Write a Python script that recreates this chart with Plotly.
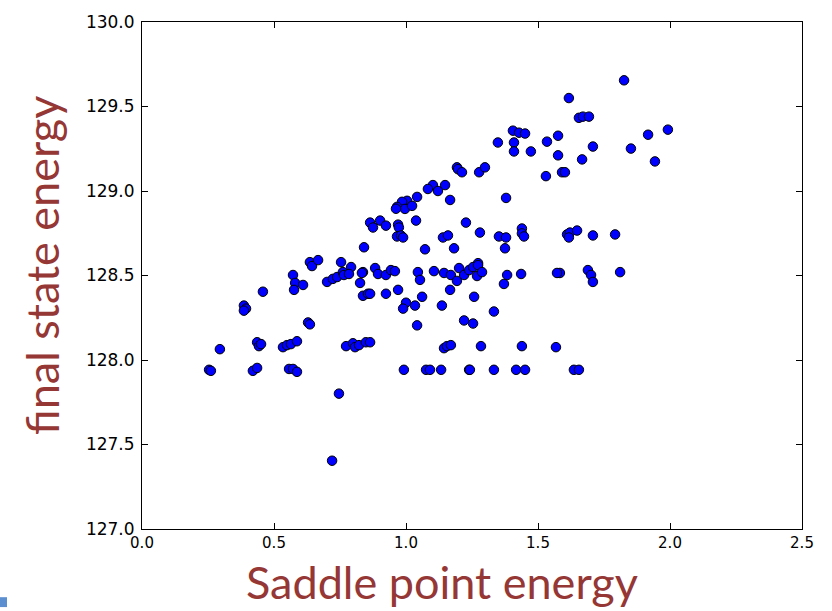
import plotly.graph_objects as go

# Saddle point energy vs. final state energy for each sampled transition
saddle_energy = [
    1.826, 1.617, 1.655, 1.670, 1.693, 1.405, 1.428, 1.451, 1.348, 1.409,
    1.409, 1.473, 1.534, 1.576, 1.708, 1.576, 1.667, 1.530, 1.591, 1.602,
    1.917, 1.992, 1.852, 1.943, 1.193, 1.197, 1.212, 1.277, 1.299, 1.102,
    1.083, 1.121, 1.148, 1.042, 1.167, 1.379, 1.004, 0.985, 0.966, 0.996,
    1.023, 0.962, 0.864, 0.875, 0.902, 0.924, 0.970, 0.973, 1.038, 1.227,
    0.966, 0.981, 0.989, 1.140, 1.159, 1.280, 1.352, 1.379, 1.439, 1.439,
    1.447, 1.610, 1.621, 1.648, 1.617, 1.708, 1.792, 0.841, 1.072, 1.182,
    1.375, 1.273,
    0.837, 0.883, 0.894, 0.924, 0.943, 0.958, 1.045, 1.053, 1.106, 1.144,
    1.170, 1.193, 1.201, 1.220, 1.239, 1.254, 1.273, 1.269, 1.288, 1.383,
    1.436, 1.371, 1.583, 1.572, 1.689, 1.701, 1.708, 1.811,
    0.636, 0.644, 0.667, 0.754, 0.572, 0.580, 0.610, 0.576, 0.701, 0.723,
    0.739, 0.761, 0.765, 0.792, 0.784, 0.833, 0.826, 0.837, 0.856,
    0.458, 0.386, 0.394, 0.386, 0.629, 0.636,
    0.436, 0.443, 0.451, 0.534, 0.549, 0.564, 0.587, 0.773, 0.799, 0.807,
    0.822, 0.848, 0.295, 0.254, 0.261, 0.420, 0.436, 0.557, 0.572, 0.587,
    0.746, 0.720,
    0.864, 0.924, 0.970, 1.000, 0.989, 1.034, 1.061, 1.167, 1.136, 1.258,
    1.042, 1.220, 1.254, 1.333, 0.864, 1.144, 1.155, 1.170, 1.284, 1.439,
    1.568, 0.992, 1.076, 1.091, 1.133, 1.239, 1.242, 1.333, 1.417, 1.451,
    1.636, 1.655,
]

final_energy = [
    129.655, 129.550, 129.433, 129.440, 129.440, 129.357, 129.345, 129.340, 129.287, 129.287,
    129.234, 129.234, 129.292, 129.327, 129.263, 129.211, 129.187, 129.088, 129.111, 129.111,
    129.333, 129.363, 129.251, 129.175, 129.140, 129.129, 129.111, 129.111, 129.140, 129.035,
    129.012, 129.000, 129.035, 128.965, 128.947, 128.959, 128.942, 128.936, 128.906, 128.894,
    128.912, 128.895, 128.813, 128.784, 128.825, 128.795, 128.801, 128.784, 128.825, 128.813,
    128.731, 128.737, 128.725, 128.725, 128.737, 128.754, 128.731, 128.725, 128.778, 128.749,
    128.731, 128.743, 128.754, 128.766, 128.725, 128.737, 128.743, 128.667, 128.655, 128.661,
    128.661, 128.573,
    128.520, 128.544, 128.509, 128.503, 128.532, 128.526, 128.520, 128.474, 128.526, 128.515,
    128.503, 128.468, 128.544, 128.503, 128.532, 128.550, 128.561, 128.497, 128.520, 128.503,
    128.509, 128.450, 128.515, 128.515, 128.532, 128.503, 128.462, 128.520,
    128.579, 128.556, 128.591, 128.579, 128.503, 128.456, 128.444, 128.415, 128.462, 128.480,
    128.491, 128.520, 128.503, 128.550, 128.509, 128.515, 128.456, 128.380, 128.392,
    128.404, 128.322, 128.304, 128.292, 128.222, 128.211,
    128.105, 128.082, 128.094, 128.076, 128.088, 128.094, 128.111, 128.082, 128.099, 128.076,
    128.088, 128.105, 128.064, 127.942, 127.936, 127.936, 127.953, 127.947, 127.947, 127.930,
    127.801, 127.404,
    128.392, 128.392, 128.415, 128.339, 128.304, 128.322, 128.374, 128.415, 128.322, 128.374,
    128.205, 128.234, 128.216, 128.287, 128.105, 128.070, 128.082, 128.088, 128.082, 128.082,
    128.076, 127.942, 127.942, 127.942, 127.942, 127.942, 127.942, 127.942, 127.942, 127.942,
    127.942, 127.942,
]

x_ticks = [0.0, 0.5, 1.0, 1.5, 2.0, 2.5]
y_ticks = [127.0, 127.5, 128.0, 128.5, 129.0, 129.5, 130.0]

title_color = "#953735"
title_font = dict(family="Lato, 'Open Sans', sans-serif", size=45, color=title_color)

fig = go.Figure(
    go.Scatter(
        x=saddle_energy,
        y=final_energy,
        mode="markers",
        marker=dict(size=9.5, color="#0000ff", line=dict(color="black", width=1)),
        hoverinfo="x+y",
    )
)

axis_common = dict(
    showgrid=False,
    zeroline=False,
    showline=True,
    linecolor="black",
    linewidth=1,
    mirror="allticks",
    ticks="inside",
    ticklen=6,
    tickcolor="black",
    tickwidth=1,
    tickformat=".1f",
)

fig.update_xaxes(
    range=[0, 2.5],
    tickvals=x_ticks,
    tickfont=dict(family="DejaVu Sans", size=15, color="black"),
    **axis_common,
)
fig.update_yaxes(
    range=[127, 130],
    tickvals=y_ticks,
    tickfont=dict(family="DejaVu Sans", size=17, color="black"),
    ticklabelstandoff=3,
    **axis_common,
)

fig.update_layout(
    width=832,
    height=611,
    margin=dict(l=142, r=30, t=16, b=82),
    paper_bgcolor="white",
    plot_bgcolor="white",
    showlegend=False,
    annotations=[
        dict(
            text="Saddle point energy",
            xref="paper", yref="paper",
            x=(442 - 142) / 660, y=-0.105,
            xanchor="center", yanchor="middle",
            showarrow=False,
            font=title_font,
        ),
        dict(
            text="final state energy",
            xref="paper", yref="paper",
            x=-(142 - 42) / 660, y=(529 - 263) / 513,
            xanchor="center", yanchor="middle",
            textangle=-90,
            showarrow=False,
            font=title_font,
        ),
    ],
    shapes=[
        dict(
            type="rect", xref="paper", yref="paper",
            x0=-142 / 660, x1=-135 / 660,
            y0=-(611 - 529 - 3) / 513, y1=-(608 - 529 - 10) / 513,
            fillcolor="#5b8fd0", line=dict(width=0),
        )
    ],
)

fig.write_html("out.html")
